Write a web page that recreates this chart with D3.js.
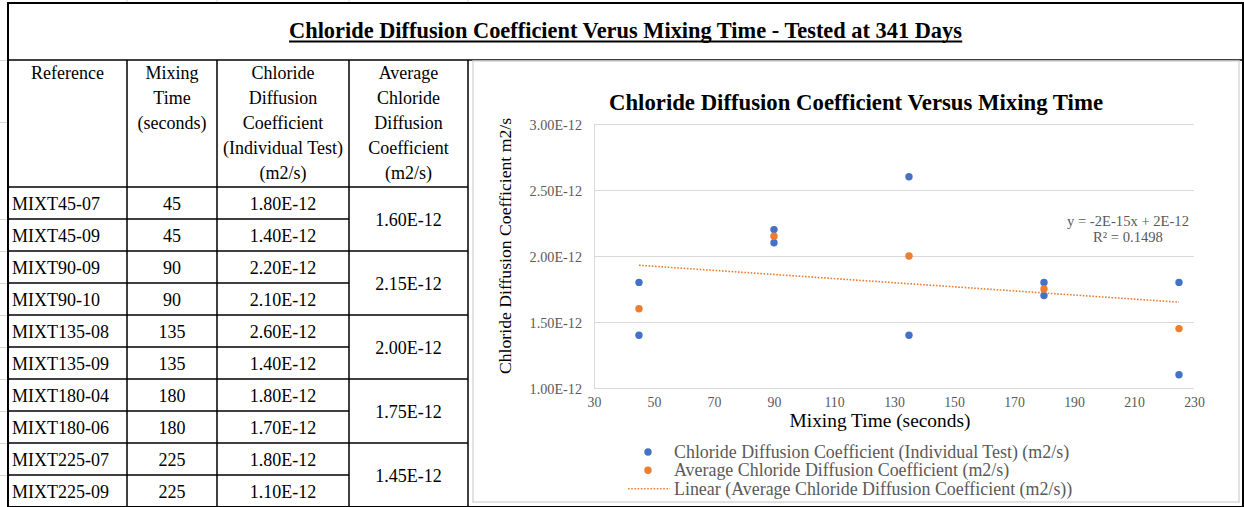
<!DOCTYPE html>
<html>
<head>
<meta charset="utf-8">
<script src="https://cdn.jsdelivr.net/npm/d3@7"></script>
<style>
  html, body { margin: 0; padding: 0; background: #fff; }
  svg { display: block; font-family: "Liberation Serif", "Times New Roman", serif; }
  svg text { font-family: "Liberation Serif", "Times New Roman", serif !important; }
</style>
</head>
<body>
<svg id="chart" width="1244" height="507" font-family="Liberation Serif"></svg>
<script>
// ---------------- DATA ----------------
const pageTitle = "Chloride Diffusion Coefficient Verus Mixing Time - Tested at 341 Days";
const headerCols = [
  ["Reference"],
  ["Mixing", "Time", "(seconds)"],
  ["Chloride", "Diffusion", "Coefficient", "(Individual Test)", "(m2/s)"],
  ["Average", "Chloride", "Diffusion", "Coefficient", "(m2/s)"]
];
const references = ["MIXT45-07", "MIXT45-09", "MIXT90-09", "MIXT90-10", "MIXT135-08",
                    "MIXT135-09", "MIXT180-04", "MIXT180-06", "MIXT225-07", "MIXT225-09"];
const mixingTimes = [45, 45, 90, 90, 135, 135, 180, 180, 225, 225];
const individualValues = [1.80e-12, 1.40e-12, 2.20e-12, 2.10e-12, 2.60e-12,
                          1.40e-12, 1.80e-12, 1.70e-12, 1.80e-12, 1.10e-12];
const averageTimes = [45, 90, 135, 180, 225];
const averageValues = [1.60e-12, 2.15e-12, 2.00e-12, 1.75e-12, 1.45e-12];

const chartTitle = "Chloride Diffusion Coefficient Versus Mixing Time";
const xAxisTitle = "Mixing Time (seconds)";
const yAxisTitle = "Chloride Diffusion Coefficient m2/s";
const xTicks = [30, 50, 70, 90, 110, 130, 150, 170, 190, 210, 230];
const yTicks = [1.00e-12, 1.50e-12, 2.00e-12, 2.50e-12, 3.00e-12];
const legendLabels = [
  "Chloride Diffusion Coefficient (Individual Test) (m2/s)",
  "Average Chloride Diffusion Coefficient (m2/s)",
  "Linear (Average Chloride Diffusion Coefficient (m2/s))"
];
const equationLines = ["y = -2E-15x + 2E-12", "R\u00b2 = 0.1498"];

// ---------------- STYLE ----------------
const BLUE = "#4472c4", ORANGE = "#ed7d31", GRID = "#d9d9d9", LABEL = "#595959";

const svg = d3.select("#chart");
svg.append("rect").attr("width", 1244).attr("height", 507).attr("fill", "#fff");

function fitWidth(sel, target) {
  const node = sel.node();
  let fs = parseFloat(sel.attr("font-size"));
  for (let i = 0; i < 3; i++) {
    const w = node.getComputedTextLength();
    if (w > 0) fs = fs * target / w;
    sel.attr("font-size", fs.toFixed(2));
  }
  return fs;
}

// ---------------- TABLE ----------------
const colX = [8, 127, 217, 349, 468, 1243];
const titleTop = 3, titleBottom = 60, headerBottom = 187, rowH = 32;
const rowY = d3.range(references.length + 1).map(i => headerBottom + i * rowH);
const tableBottom = rowY[rowY.length - 1];
const fmt = v => v.toExponential(2).toUpperCase();

const tbl = svg.append("g");

// faint spreadsheet gridlines outside the table
const faint = tbl.append("g").attr("stroke", "#d4d4d4").attr("stroke-width", 1);
colX.slice(1, 5).forEach(x => faint.append("line").attr("x1", x).attr("x2", x).attr("y1", 0).attr("y2", titleTop));
[titleBottom, 122].concat(rowY.slice(1, -1)).forEach(y =>
  faint.append("line").attr("x1", 0).attr("x2", colX[0] - 1).attr("y1", y + 0.5).attr("y2", y + 0.5));

// main title
const tt = tbl.append("text")
  .attr("x", (colX[0] + colX[5]) / 2).attr("y", 38)
  .attr("text-anchor", "middle").attr("font-weight", "bold").attr("font-size", 20)
  .attr("fill", "#000").text(pageTitle);
fitWidth(tt, 673);
const tb = tt.node().getBBox();
tbl.append("line").attr("x1", tb.x).attr("x2", tb.x + tb.width)
  .attr("y1", 41.5).attr("y2", 41.5).attr("stroke", "#000").attr("stroke-width", 2);

// header
headerCols.forEach((lines, ci) => {
  const cx = (colX[ci] + colX[ci + 1]) / 2;
  lines.forEach((ln, li) => {
    tbl.append("text").attr("x", cx).attr("y", 72.7 + li * 25)
      .attr("text-anchor", "middle").attr("dominant-baseline", "central")
      .attr("font-size", 18).attr("fill", "#000").text(ln);
  });
});

// data rows
references.forEach((r, i) => {
  const cy = (rowY[i] + rowY[i + 1]) / 2 + 0.5;
  tbl.append("text").attr("x", colX[0] + 4).attr("y", cy).attr("dominant-baseline", "central")
    .attr("font-size", 18).attr("fill", "#000").text(r);
  tbl.append("text").attr("x", (colX[1] + colX[2]) / 2).attr("y", cy).attr("dominant-baseline", "central")
    .attr("text-anchor", "middle").attr("font-size", 18).attr("fill", "#000").text(mixingTimes[i]);
  tbl.append("text").attr("x", (colX[2] + colX[3]) / 2).attr("y", cy).attr("dominant-baseline", "central")
    .attr("text-anchor", "middle").attr("font-size", 18).attr("fill", "#000").text(fmt(individualValues[i]));
});
averageValues.forEach((v, j) => {
  const cy = rowY[2 * j + 1] + 0.5;
  tbl.append("text").attr("x", (colX[3] + colX[4]) / 2).attr("y", cy).attr("dominant-baseline", "central")
    .attr("text-anchor", "middle").attr("font-size", 18).attr("fill", "#000").text(fmt(v));
});

// inner lines
const inner = tbl.append("g").attr("stroke", "#000").attr("stroke-width", 1.5);
inner.append("line").attr("x1", colX[0]).attr("x2", colX[5]).attr("y1", titleBottom).attr("y2", titleBottom);
[1, 2, 3, 4].forEach(ci => inner.append("line").attr("x1", colX[ci]).attr("x2", colX[ci])
  .attr("y1", titleBottom).attr("y2", tableBottom));
rowY.slice(0, -1).forEach((y, i) => {
  const x2 = (i % 2 === 1) ? colX[3] : colX[4];
  inner.append("line").attr("x1", colX[0]).attr("x2", x2).attr("y1", y).attr("y2", y);
});

// ---------------- CHART ----------------
const ca = { x: 473, y: 61, w: 766, h: 441 };
svg.append("rect").attr("x", ca.x).attr("y", ca.y).attr("width", ca.w).attr("height", ca.h)
  .attr("fill", "#fff").attr("stroke", GRID).attr("stroke-width", 1.5);

const plot = { left: 594, right: 1194, top: 124, bottom: 388 };
const x = d3.scaleLinear().domain([30, 230]).range([plot.left, plot.right]);
const y = d3.scaleLinear().domain([1.0e-12, 3.0e-12]).range([plot.bottom, plot.top]);

const g = svg.append("g");

// gridlines
g.append("g").selectAll("line").data(yTicks).join("line")
  .attr("x1", plot.left).attr("x2", plot.right)
  .attr("y1", d => Math.round(y(d)) + 0.5).attr("y2", d => Math.round(y(d)) + 0.5)
  .attr("stroke", GRID).attr("stroke-width", 1);
g.append("line").attr("x1", plot.left + 0.5).attr("x2", plot.left + 0.5)
  .attr("y1", plot.top).attr("y2", plot.bottom).attr("stroke", GRID);

// axes via d3
const yAxis = g.append("g").attr("transform", `translate(${plot.left},0)`)
  .call(d3.axisLeft(y).tickValues(yTicks).tickSize(0).tickPadding(12).tickFormat(fmt));
const xAxis = g.append("g").attr("transform", `translate(0,${plot.bottom})`)
  .call(d3.axisBottom(x).tickValues(xTicks).tickSize(0).tickPadding(10).tickFormat(d3.format("d")));
[xAxis, yAxis].forEach(a => {
  a.attr("font-family", null);
  a.select(".domain").remove();
  a.selectAll("text").attr("fill", LABEL);
});
yAxis.selectAll("text").attr("font-size", 14.2).attr("dy", null).attr("dominant-baseline", "central");
xAxis.selectAll("text").attr("font-size", 13.8).attr("dy", null).attr("y", 14.5).attr("dominant-baseline", "central");

// chart title
const ct = g.append("text").attr("x", ca.x + ca.w / 2).attr("y", 102.7)
  .attr("text-anchor", "middle").attr("dominant-baseline", "central")
  .attr("font-weight", "bold").attr("font-size", 20).attr("fill", "#000").text(chartTitle);
fitWidth(ct, 494);

// axis titles
const yt = g.append("text").attr("transform", "translate(505,246) rotate(-90)")
  .attr("text-anchor", "middle").attr("dominant-baseline", "central")
  .attr("font-size", 16).attr("fill", "#000").text(yAxisTitle);
fitWidth(yt, 256);
const xt = g.append("text").attr("x", 880).attr("y", 427)
  .attr("text-anchor", "middle")
  .attr("font-size", 17).attr("fill", "#000").text(xAxisTitle);
fitWidth(xt, 181);

// trendline (least squares on averages)
const mx = d3.mean(averageTimes), my = d3.mean(averageValues);
const slope = d3.sum(averageTimes, (t, i) => (t - mx) * (averageValues[i] - my)) /
              d3.sum(averageTimes, t => (t - mx) ** 2);
const intercept = my - slope * mx;
const tx = d3.extent(averageTimes);
g.append("line")
  .attr("x1", x(tx[0])).attr("y1", y(intercept + slope * tx[0]))
  .attr("x2", x(tx[1])).attr("y2", y(intercept + slope * tx[1]))
  .attr("stroke", ORANGE).attr("stroke-width", 1.6).attr("stroke-dasharray", "1.6,1.6");

// points
g.append("g").selectAll("circle").data(individualValues).join("circle")
  .attr("cx", (d, i) => x(mixingTimes[i])).attr("cy", d => y(d)).attr("r", 3.7).attr("fill", BLUE);
g.append("g").selectAll("circle").data(averageValues).join("circle")
  .attr("cx", (d, i) => x(averageTimes[i])).attr("cy", d => y(d)).attr("r", 3.7).attr("fill", ORANGE);

// equation
const eq0 = g.append("text").attr("x", 1128).attr("y", 220.7).attr("text-anchor", "middle")
  .attr("dominant-baseline", "central").attr("font-size", 14.5).attr("fill", LABEL).text(equationLines[0]);
const eqfs = fitWidth(eq0, 122);
g.append("text").attr("x", 1128).attr("y", 237.3).attr("text-anchor", "middle")
  .attr("dominant-baseline", "central").attr("font-size", eqfs.toFixed(2)).attr("fill", LABEL).text(equationLines[1]);

// legend
const legY = [452, 470.3, 488.7];
const lg = g.append("g");
const l0 = lg.append("text").attr("x", 674).attr("y", legY[0]).attr("dominant-baseline", "central")
  .attr("font-size", 16.5).attr("fill", LABEL).text(legendLabels[0]);
const lfs = fitWidth(l0, 395);
legendLabels.slice(1).forEach((lab, i) => {
  lg.append("text").attr("x", 674).attr("y", legY[i + 1]).attr("dominant-baseline", "central")
    .attr("font-size", lfs.toFixed(2)).attr("fill", LABEL).text(lab);
});
lg.append("circle").attr("cx", 648).attr("cy", legY[0]).attr("r", 3.7).attr("fill", BLUE);
lg.append("circle").attr("cx", 648).attr("cy", legY[1]).attr("r", 3.7).attr("fill", ORANGE);
lg.append("line").attr("x1", 628).attr("x2", 670).attr("y1", legY[2]).attr("y2", legY[2])
  .attr("stroke", ORANGE).attr("stroke-width", 1.6).attr("stroke-dasharray", "1.6,1.6");

// outer border (drawn last)
svg.append("rect").attr("x", colX[0]).attr("y", titleTop)
  .attr("width", colX[5] - colX[0]).attr("height", tableBottom - titleTop)
  .attr("fill", "none").attr("stroke", "#000").attr("stroke-width", 2);
</script>
</body>
</html>
